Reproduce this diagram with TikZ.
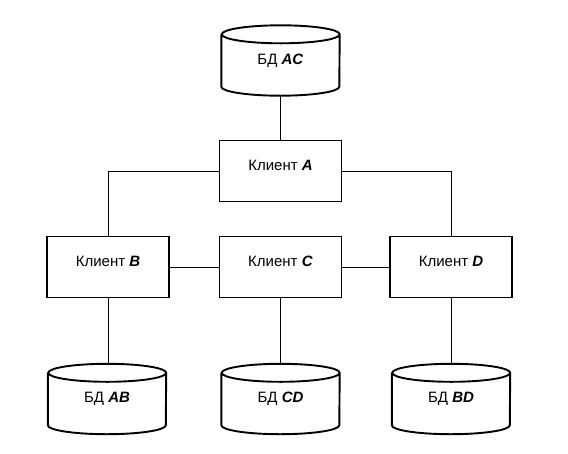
\documentclass[tikz,border=0pt]{standalone}
\usepackage{fontspec}
\setmainfont{Liberation Sans}

\begin{document}
\begin{tikzpicture}[x=1pt,y=-1pt,
    every node/.style={font=\fontsize{15}{18}\selectfont},
    client/.style={rectangle,draw,line width=1.9pt,minimum width=122pt,minimum height=61pt,
        text height=11pt,text depth=12pt},
    dbase/.style={rectangle,inner sep=0pt,minimum width=118pt,minimum height=70pt},
    dbline/.style={line width=1.9pt},
    link/.style={line width=0.8pt}]

    \useasboundingbox (0,0) rectangle (568,453);

    \node[dbase] (dbAC) at (280.5,60.5) {БД \textbf{\textit{AC}}};

    \node[client] (A) at (280.5,171) {Клиент \textbf{\textit{A}}};
    \node[client] (B) at (108,267) {Клиент \textbf{\textit{B}}};
    \node[client] (C) at (280.5,267) {Клиент \textbf{\textit{C}}};
    \node[client] (D) at (451,267) {Клиент \textbf{\textit{D}}};

    \node[dbase] (dbAB) at (107,399) {БД \textbf{\textit{AB}}};
    \node[dbase] (dbCD) at (280.5,399) {БД \textbf{\textit{CD}}};
    \node[dbase] (dbBD) at (451,399) {БД \textbf{\textit{BD}}};

    % cylinders
    \foreach \db in {dbAC,dbAB,dbCD,dbBD}
        \draw[dbline] ([yshift=-9pt]\db.north west) -- ([yshift=9pt]\db.south west)
            arc[start angle=180,end angle=360,x radius=59pt,y radius=9pt]
            -- ([yshift=-9pt]\db.north east)
            arc[start angle=0,end angle=360,x radius=59pt,y radius=9pt];

    \draw[link] (dbAC) -- (A);
    \draw[link] (A.west) -| (B.north);
    \draw[link] (A.east) -| (D.north);
    \draw[link] (B) -- (C);
    \draw[link] (C) -- (D);
    \draw[link] (B.south) -- (B.south |- dbAB.north);
    \draw[link] (C) -- (dbCD);
    \draw[link] (D) -- (dbBD);

\end{tikzpicture}
\end{document}
